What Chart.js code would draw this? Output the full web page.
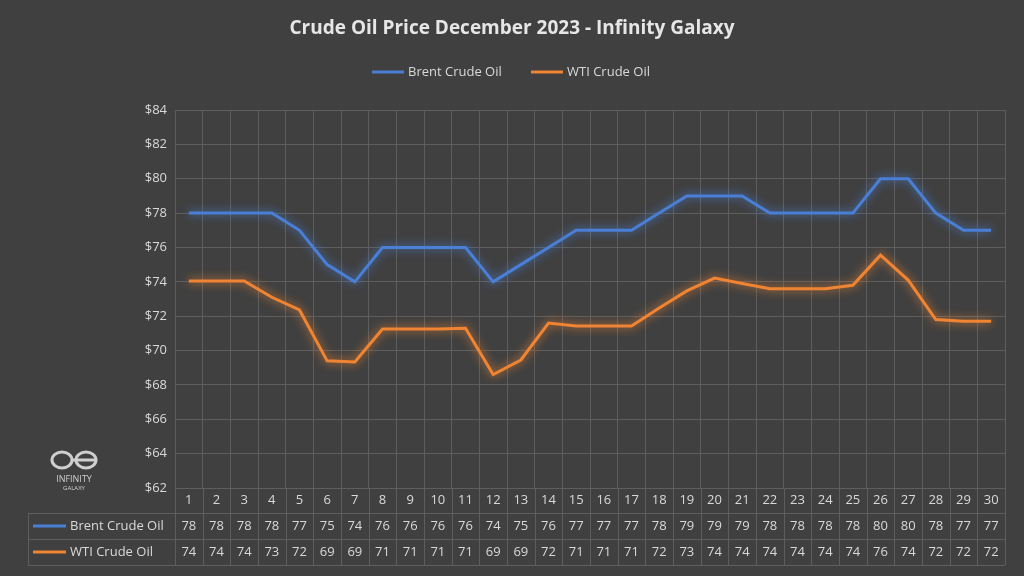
<!DOCTYPE html>
<html><head><meta charset="utf-8">
<script src="https://cdn.jsdelivr.net/npm/chart.js@4"></script>
<style>html,body{margin:0;background:#404040;}#w{width:1024px;height:576px;}</style>
</head><body><div id="w"><canvas id="c" width="1024" height="576"></canvas></div>
<script>
const days = Array.from({length:30},(_,i)=>String(i+1));
const brent = [78,78,78,78,77,75,74,76,76,76,76,74,75,76,77,77,77,78,79,79,79,78,78,78,78,80,80,78,77,77];
const wti = [74.05,74.05,74.05,73.1,72.36,69.4,69.33,71.25,71.25,71.25,71.3,68.6,69.45,71.6,71.43,71.43,71.43,72.48,73.47,74.22,73.9,73.6,73.6,73.6,73.8,75.55,74.1,71.8,71.7,71.7];
const seriesNames = ['Brent Crude Oil','WTI Crude Oil'];
const colors = ['#4a7fd6','#ef8432'];
const titleText = 'Crude Oil Price December 2023 - Infinity Galaxy';
const TXT = '#d9d9d9', GRID = '#5e5e5e';
const FONT = '"Open Sans", Calibri, sans-serif';

const glow = {
  id:'glow',
  beforeDatasetDraw(chart,args){const c=chart.ctx;c.save();c.shadowColor=colors[args.index];c.shadowBlur=10;},
  afterDatasetDraw(chart){chart.ctx.restore();}
};
const deco = {
  id:'deco',
  beforeDraw(chart){const c=chart.ctx;c.save();c.fillStyle='#404040';c.fillRect(0,0,chart.width,chart.height);c.restore();},
  afterDraw(chart){
    const c=chart.ctx, ca=chart.chartArea, xs=chart.scales.x;
    c.save();
    c.fillStyle='#e6e6e6';c.font='bold 19px '+FONT;c.textAlign='center';c.textBaseline='middle';
    c.fillText(titleText,512,29);
    // legend
    c.font='13px '+FONT;c.textAlign='left';
    const leg=[[372,seriesNames[0]],[531,seriesNames[1]]];
    leg.forEach(([x,t],i)=>{c.strokeStyle=colors[i];c.lineWidth=3;c.beginPath();c.moveTo(x,72);c.lineTo(x+32,72);c.stroke();c.fillStyle=TXT;c.fillText(t,x+36,72);});
    // table
    const rows=[ca.bottom,ca.bottom+25,ca.bottom+51,ca.bottom+77];
    const step=(ca.right-ca.left)/days.length;
    c.strokeStyle=GRID;c.lineWidth=1;
    c.beginPath();
    rows.forEach((y,i)=>{const x0=i===0?ca.left:28;c.moveTo(x0,y+0.5);c.lineTo(ca.right,y+0.5);});
    for(let i=0;i<=days.length;i++){const x=Math.round(ca.left+i*step)+0.5;c.moveTo(x,rows[0]);c.lineTo(x,rows[3]);}
    c.moveTo(28.5,rows[1]);c.lineTo(28.5,rows[3]);
    c.stroke();
    c.fillStyle=TXT;c.font='13px '+FONT;c.textAlign='center';
    const data=[brent,wti];
    days.forEach((d,i)=>{
      const x=xs.getPixelForValue(i);
      c.fillText(d,x,(rows[0]+rows[1])/2);
      c.fillText(String(Math.round(data[0][i])),x,(rows[1]+rows[2])/2);
      c.fillText(String(Math.round(data[1][i])),x,(rows[2]+rows[3])/2);
    });
    c.textAlign='left';
    [0,1].forEach(i=>{const y=(rows[i+1]+rows[i+2])/2;c.strokeStyle=colors[i];c.lineWidth=3;c.beginPath();c.moveTo(33,y);c.lineTo(66,y);c.stroke();c.fillStyle=TXT;c.fillText(seriesNames[i],70,y);});
    // logo
    c.strokeStyle='#cfcfcf';c.lineWidth=3;c.beginPath();c.ellipse(62,460,10,8,0,0,Math.PI*2);c.ellipse(86,460,10,8,0,0,Math.PI*2);c.stroke();
    c.fillStyle='#cfcfcf';c.textAlign='center';c.font='9px '+FONT;c.fillText('INFINITY',74,479);c.font='6px '+FONT;c.fillText('GALAXY',74,488);
    c.restore();
  }
};
new Chart(document.getElementById('c'),{
  type:'line',
  data:{labels:days,datasets:[
    {label:seriesNames[0],data:brent,borderColor:colors[0],borderWidth:3,pointRadius:0,tension:0},
    {label:seriesNames[1],data:wti,borderColor:colors[1],borderWidth:3,pointRadius:0,tension:0}]},
  options:{responsive:false,animation:false,
    layout:{padding:{top:110,bottom:88,right:19,left:0}},
    plugins:{legend:{display:false},title:{display:false},tooltip:{enabled:false}},
    scales:{
      x:{offset:true,display:true,ticks:{display:false},grid:{color:GRID,offset:true,drawTicks:false},border:{display:false}},
      y:{min:62,max:84,ticks:{stepSize:2,color:TXT,font:{size:13,family:FONT},callback:v=>'$'+v,padding:8},
         grid:{color:GRID,drawTicks:false},border:{display:false},afterFit(s){s.width=175;}}
    }},
  plugins:[deco,glow]
});
</script></body></html>
